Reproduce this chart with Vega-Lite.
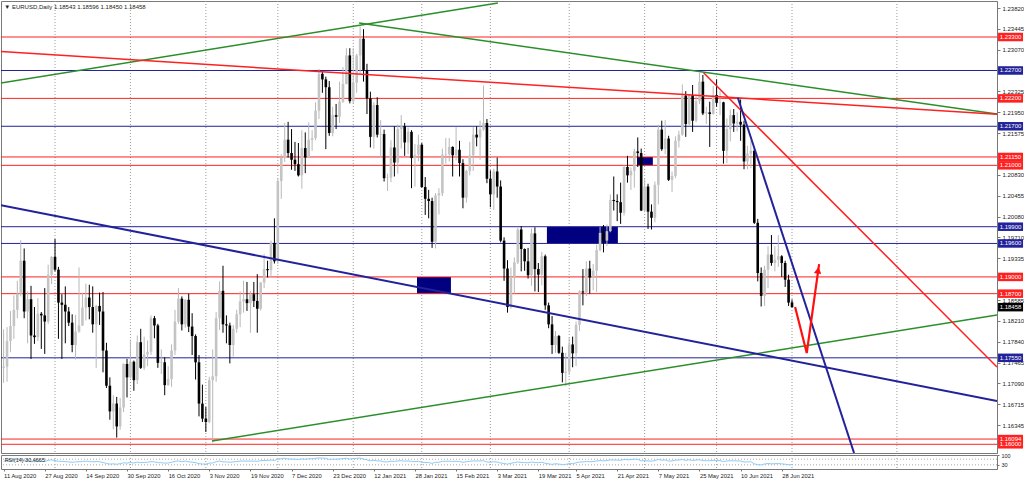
{
  "$schema": "https://vega.github.io/schema/vega-lite/v6.json",
  "padding": 0,
  "background": "white",
  "spacing": 2,
  "bounds": "flush",
  "config": {
    "view": {"stroke": "#7a7a7a", "strokeWidth": 1},
    "font": "Liberation Sans",
    "text": {"font": "Liberation Sans"},
    "axis": {"labelFont": "Liberation Sans", "labelFontSize": 6, "labelColor": "#222222", "domainColor": "#777777", "tickColor": "#777777", "grid": false, "title": null},
    "scale": {"continuousPadding": 0}
  },
  "datasets": {
    "candles": [
      {"i":0,"o":1.1737,"h":1.1806,"l":1.1710,"c":1.1739,"rsi":55},
      {"i":1,"o":1.1739,"h":1.1810,"l":1.1712,"c":1.1785,"rsi":60},
      {"i":2,"o":1.1785,"h":1.1839,"l":1.1765,"c":1.1812,"rsi":63},
      {"i":3,"o":1.1812,"h":1.1867,"l":1.1789,"c":1.1841,"rsi":66},
      {"i":4,"o":1.1841,"h":1.1893,"l":1.1826,"c":1.1870,"rsi":68},
      {"i":5,"o":1.1870,"h":1.1966,"l":1.1865,"c":1.1929,"rsi":72},
      {"i":6,"o":1.1929,"h":1.1951,"l":1.1826,"c":1.1838,"rsi":58},
      {"i":7,"o":1.1838,"h":1.1874,"l":1.1781,"c":1.1860,"rsi":60},
      {"i":8,"o":1.1860,"h":1.1884,"l":1.1753,"c":1.1795,"rsi":52},
      {"i":9,"o":1.1795,"h":1.1846,"l":1.1780,"c":1.1792,"rsi":52},
      {"i":10,"o":1.1792,"h":1.1862,"l":1.1785,"c":1.1834,"rsi":56},
      {"i":11,"o":1.1834,"h":1.1837,"l":1.1771,"c":1.1831,"rsi":55},
      {"i":12,"o":1.1831,"h":1.1880,"l":1.1762,"c":1.1820,"rsi":54},
      {"i":13,"o":1.1820,"h":1.1922,"l":1.1816,"c":1.1904,"rsi":62},
      {"i":14,"o":1.1904,"h":1.1937,"l":1.1887,"c":1.1936,"rsi":65},
      {"i":15,"o":1.1936,"h":1.1968,"l":1.1910,"c":1.1913,"rsi":60},
      {"i":16,"o":1.1913,"h":1.1918,"l":1.1789,"c":1.1854,"rsi":55},
      {"i":17,"o":1.1854,"h":1.1869,"l":1.1753,"c":1.1850,"rsi":54},
      {"i":18,"o":1.1850,"h":1.1883,"l":1.1781,"c":1.1838,"rsi":53},
      {"i":19,"o":1.1838,"h":1.1846,"l":1.1812,"c":1.1818,"rsi":51},
      {"i":20,"o":1.1818,"h":1.1833,"l":1.1765,"c":1.1778,"rsi":48},
      {"i":21,"o":1.1778,"h":1.1832,"l":1.1752,"c":1.1802,"rsi":51},
      {"i":22,"o":1.1802,"h":1.1917,"l":1.1800,"c":1.1813,"rsi":52},
      {"i":23,"o":1.1813,"h":1.1871,"l":1.1812,"c":1.1845,"rsi":54},
      {"i":24,"o":1.1845,"h":1.1888,"l":1.1822,"c":1.1863,"rsi":56},
      {"i":25,"o":1.1863,"h":1.1886,"l":1.1824,"c":1.1846,"rsi":54},
      {"i":26,"o":1.1846,"h":1.1883,"l":1.1800,"c":1.1815,"rsi":51},
      {"i":27,"o":1.1815,"h":1.1850,"l":1.1737,"c":1.1848,"rsi":53},
      {"i":28,"o":1.1848,"h":1.1872,"l":1.1814,"c":1.1838,"rsi":52},
      {"i":29,"o":1.1838,"h":1.1873,"l":1.1729,"c":1.1768,"rsi":46},
      {"i":30,"o":1.1768,"h":1.1782,"l":1.1701,"c":1.1705,"rsi":40},
      {"i":31,"o":1.1705,"h":1.1720,"l":1.1644,"c":1.1659,"rsi":35},
      {"i":32,"o":1.1659,"h":1.1688,"l":1.1627,"c":1.1673,"rsi":37},
      {"i":33,"o":1.1673,"h":1.1685,"l":1.1612,"c":1.1632,"rsi":34},
      {"i":34,"o":1.1632,"h":1.1683,"l":1.1626,"c":1.1666,"rsi":38},
      {"i":35,"o":1.1666,"h":1.1745,"l":1.1658,"c":1.1744,"rsi":44},
      {"i":36,"o":1.1744,"h":1.1753,"l":1.1684,"c":1.1720,"rsi":42},
      {"i":37,"o":1.1720,"h":1.1788,"l":1.1718,"c":1.1748,"rsi":46},
      {"i":38,"o":1.1748,"h":1.1750,"l":1.1696,"c":1.1715,"rsi":43},
      {"i":39,"o":1.1715,"h":1.1795,"l":1.1708,"c":1.1783,"rsi":49},
      {"i":40,"o":1.1783,"h":1.1807,"l":1.1735,"c":1.1737,"rsi":45},
      {"i":41,"o":1.1737,"h":1.1793,"l":1.1733,"c":1.1761,"rsi":47},
      {"i":42,"o":1.1761,"h":1.1786,"l":1.1740,"c":1.1766,"rsi":48},
      {"i":43,"o":1.1766,"h":1.1831,"l":1.1760,"c":1.1826,"rsi":53},
      {"i":44,"o":1.1826,"h":1.1830,"l":1.1790,"c":1.1813,"rsi":51},
      {"i":45,"o":1.1813,"h":1.1816,"l":1.1737,"c":1.1746,"rsi":45},
      {"i":46,"o":1.1746,"h":1.1770,"l":1.1726,"c":1.1747,"rsi":45},
      {"i":47,"o":1.1747,"h":1.1756,"l":1.1688,"c":1.1706,"rsi":42},
      {"i":48,"o":1.1706,"h":1.1740,"l":1.1705,"c":1.1717,"rsi":43},
      {"i":49,"o":1.1717,"h":1.1779,"l":1.1703,"c":1.1768,"rsi":48},
      {"i":50,"o":1.1768,"h":1.1841,"l":1.1760,"c":1.1820,"rsi":54},
      {"i":51,"o":1.1820,"h":1.1880,"l":1.1816,"c":1.1861,"rsi":58},
      {"i":52,"o":1.1861,"h":1.1865,"l":1.1804,"c":1.1815,"rsi":52},
      {"i":53,"o":1.1815,"h":1.1860,"l":1.1809,"c":1.1859,"rsi":56},
      {"i":54,"o":1.1859,"h":1.1870,"l":1.1801,"c":1.1811,"rsi":51},
      {"i":55,"o":1.1811,"h":1.1835,"l":1.1760,"c":1.1794,"rsi":49},
      {"i":56,"o":1.1794,"h":1.1797,"l":1.1716,"c":1.1747,"rsi":45},
      {"i":57,"o":1.1747,"h":1.1760,"l":1.1650,"c":1.1673,"rsi":38},
      {"i":58,"o":1.1673,"h":1.1707,"l":1.1640,"c":1.1646,"rsi":36},
      {"i":59,"o":1.1646,"h":1.1667,"l":1.1622,"c":1.1640,"rsi":35},
      {"i":60,"o":1.1640,"h":1.1721,"l":1.1638,"c":1.1715,"rsi":42},
      {"i":61,"o":1.1715,"h":1.1770,"l":1.1603,"c":1.1722,"rsi":43},
      {"i":62,"o":1.1722,"h":1.1837,"l":1.1712,"c":1.1826,"rsi":52},
      {"i":63,"o":1.1826,"h":1.1892,"l":1.1805,"c":1.1875,"rsi":57},
      {"i":64,"o":1.1875,"h":1.1920,"l":1.1800,"c":1.1815,"rsi":51},
      {"i":65,"o":1.1815,"h":1.1831,"l":1.1781,"c":1.1813,"rsi":51},
      {"i":66,"o":1.1813,"h":1.1818,"l":1.1745,"c":1.1778,"rsi":48},
      {"i":67,"o":1.1778,"h":1.1814,"l":1.1757,"c":1.1807,"rsi":51},
      {"i":68,"o":1.1807,"h":1.1841,"l":1.1800,"c":1.1833,"rsi":54},
      {"i":69,"o":1.1833,"h":1.1874,"l":1.1810,"c":1.1856,"rsi":56},
      {"i":70,"o":1.1856,"h":1.1893,"l":1.1836,"c":1.1860,"rsi":57},
      {"i":71,"o":1.1860,"h":1.1891,"l":1.1839,"c":1.1853,"rsi":56},
      {"i":72,"o":1.1853,"h":1.1875,"l":1.1800,"c":1.1869,"rsi":57},
      {"i":73,"o":1.1869,"h":1.1891,"l":1.1846,"c":1.1857,"rsi":56},
      {"i":74,"o":1.1857,"h":1.1905,"l":1.1800,"c":1.1843,"rsi":55},
      {"i":75,"o":1.1843,"h":1.1891,"l":1.1840,"c":1.1890,"rsi":59},
      {"i":76,"o":1.1890,"h":1.1941,"l":1.1880,"c":1.1914,"rsi":61},
      {"i":77,"o":1.1914,"h":1.1929,"l":1.1899,"c":1.1912,"rsi":61},
      {"i":78,"o":1.1912,"h":1.1965,"l":1.1900,"c":1.1961,"rsi":64},
      {"i":79,"o":1.1961,"h":1.2005,"l":1.1924,"c":1.1928,"rsi":61},
      {"i":80,"o":1.1928,"h":1.2077,"l":1.1923,"c":1.2072,"rsi":70},
      {"i":81,"o":1.2072,"h":1.2120,"l":1.2040,"c":1.2113,"rsi":73},
      {"i":82,"o":1.2113,"h":1.2176,"l":1.2106,"c":1.2146,"rsi":75},
      {"i":83,"o":1.2146,"h":1.2178,"l":1.2114,"c":1.2122,"rsi":72},
      {"i":84,"o":1.2122,"h":1.2165,"l":1.2092,"c":1.2110,"rsi":71},
      {"i":85,"o":1.2110,"h":1.2142,"l":1.2090,"c":1.2102,"rsi":70},
      {"i":86,"o":1.2102,"h":1.2140,"l":1.2080,"c":1.2082,"rsi":68},
      {"i":87,"o":1.2082,"h":1.2163,"l":1.2058,"c":1.2131,"rsi":72},
      {"i":88,"o":1.2131,"h":1.2159,"l":1.2086,"c":1.2114,"rsi":70},
      {"i":89,"o":1.2114,"h":1.2177,"l":1.2113,"c":1.2146,"rsi":73},
      {"i":90,"o":1.2146,"h":1.2163,"l":1.2126,"c":1.2149,"rsi":73},
      {"i":91,"o":1.2149,"h":1.2213,"l":1.2145,"c":1.2198,"rsi":76},
      {"i":92,"o":1.2198,"h":1.2273,"l":1.2183,"c":1.2264,"rsi":79},
      {"i":93,"o":1.2264,"h":1.2269,"l":1.2230,"c":1.2254,"rsi":78},
      {"i":94,"o":1.2254,"h":1.2259,"l":1.2129,"c":1.2240,"rsi":76},
      {"i":95,"o":1.2240,"h":1.2251,"l":1.2153,"c":1.2158,"rsi":68},
      {"i":96,"o":1.2158,"h":1.2205,"l":1.2152,"c":1.2190,"rsi":70},
      {"i":97,"o":1.2190,"h":1.2210,"l":1.2165,"c":1.2187,"rsi":70},
      {"i":98,"o":1.2187,"h":1.2250,"l":1.2176,"c":1.2214,"rsi":72},
      {"i":99,"o":1.2214,"h":1.2276,"l":1.2212,"c":1.2246,"rsi":74},
      {"i":100,"o":1.2246,"h":1.2310,"l":1.2245,"c":1.2297,"rsi":77},
      {"i":101,"o":1.2297,"h":1.2310,"l":1.2211,"c":1.2215,"rsi":71},
      {"i":102,"o":1.2215,"h":1.2310,"l":1.2211,"c":1.2248,"rsi":73},
      {"i":103,"o":1.2248,"h":1.2300,"l":1.2230,"c":1.2297,"rsi":76},
      {"i":104,"o":1.2297,"h":1.2349,"l":1.2265,"c":1.2327,"rsi":78},
      {"i":105,"o":1.2327,"h":1.2344,"l":1.2250,"c":1.2271,"rsi":71},
      {"i":106,"o":1.2271,"h":1.2282,"l":1.2192,"c":1.2220,"rsi":65},
      {"i":107,"o":1.2220,"h":1.2232,"l":1.2132,"c":1.2151,"rsi":58},
      {"i":108,"o":1.2151,"h":1.2213,"l":1.2130,"c":1.2208,"rsi":62},
      {"i":109,"o":1.2208,"h":1.2222,"l":1.2150,"c":1.2155,"rsi":58},
      {"i":110,"o":1.2155,"h":1.2181,"l":1.2113,"c":1.2156,"rsi":58},
      {"i":111,"o":1.2156,"h":1.2164,"l":1.2071,"c":1.2077,"rsi":51},
      {"i":112,"o":1.2077,"h":1.2085,"l":1.2054,"c":1.2078,"rsi":51},
      {"i":113,"o":1.2078,"h":1.2145,"l":1.2070,"c":1.2132,"rsi":56},
      {"i":114,"o":1.2132,"h":1.2170,"l":1.2080,"c":1.2105,"rsi":54},
      {"i":115,"o":1.2105,"h":1.2173,"l":1.2085,"c":1.2165,"rsi":58},
      {"i":116,"o":1.2165,"h":1.2190,"l":1.2130,"c":1.2170,"rsi":59},
      {"i":117,"o":1.2170,"h":1.2176,"l":1.2117,"c":1.2141,"rsi":56},
      {"i":118,"o":1.2141,"h":1.2168,"l":1.2120,"c":1.2160,"rsi":58},
      {"i":119,"o":1.2160,"h":1.2163,"l":1.2059,"c":1.2113,"rsi":53},
      {"i":120,"o":1.2113,"h":1.2138,"l":1.2062,"c":1.2119,"rsi":53},
      {"i":121,"o":1.2119,"h":1.2155,"l":1.2107,"c":1.2137,"rsi":55},
      {"i":122,"o":1.2137,"h":1.2140,"l":1.2060,"c":1.2061,"rsi":48},
      {"i":123,"o":1.2061,"h":1.2079,"l":1.2011,"c":1.2040,"rsi":46},
      {"i":124,"o":1.2040,"h":1.2056,"l":1.2005,"c":1.2036,"rsi":46},
      {"i":125,"o":1.2036,"h":1.2042,"l":1.1952,"c":1.1963,"rsi":40},
      {"i":126,"o":1.1963,"h":1.2050,"l":1.1951,"c":1.2046,"rsi":48},
      {"i":127,"o":1.2046,"h":1.2059,"l":1.2012,"c":1.2050,"rsi":48},
      {"i":128,"o":1.2050,"h":1.2130,"l":1.2045,"c":1.2119,"rsi":55},
      {"i":129,"o":1.2119,"h":1.2149,"l":1.2103,"c":1.2120,"rsi":55},
      {"i":130,"o":1.2120,"h":1.2149,"l":1.2107,"c":1.2133,"rsi":56},
      {"i":131,"o":1.2133,"h":1.2134,"l":1.2080,"c":1.2118,"rsi":54},
      {"i":132,"o":1.2118,"h":1.2169,"l":1.2109,"c":1.2128,"rsi":55},
      {"i":133,"o":1.2128,"h":1.2144,"l":1.2080,"c":1.2104,"rsi":53},
      {"i":134,"o":1.2104,"h":1.2111,"l":1.2023,"c":1.2042,"rsi":48},
      {"i":135,"o":1.2042,"h":1.2092,"l":1.2033,"c":1.2090,"rsi":52},
      {"i":136,"o":1.2090,"h":1.2142,"l":1.2082,"c":1.2118,"rsi":55},
      {"i":137,"o":1.2118,"h":1.2169,"l":1.2090,"c":1.2155,"rsi":58},
      {"i":138,"o":1.2155,"h":1.2170,"l":1.2134,"c":1.2150,"rsi":57},
      {"i":139,"o":1.2150,"h":1.2180,"l":1.2110,"c":1.2164,"rsi":58},
      {"i":140,"o":1.2164,"h":1.2243,"l":1.2162,"c":1.2176,"rsi":59},
      {"i":141,"o":1.2176,"h":1.2183,"l":1.2068,"c":1.2076,"rsi":50},
      {"i":142,"o":1.2076,"h":1.2091,"l":1.2025,"c":1.2048,"rsi":48},
      {"i":143,"o":1.2048,"h":1.2094,"l":1.2020,"c":1.2089,"rsi":52},
      {"i":144,"o":1.2089,"h":1.2114,"l":1.2042,"c":1.2062,"rsi":50},
      {"i":145,"o":1.2062,"h":1.2073,"l":1.1962,"c":1.1965,"rsi":43},
      {"i":146,"o":1.1965,"h":1.1971,"l":1.1893,"c":1.1915,"rsi":39},
      {"i":147,"o":1.1915,"h":1.1930,"l":1.1836,"c":1.1846,"rsi":35},
      {"i":148,"o":1.1846,"h":1.1917,"l":1.1843,"c":1.1900,"rsi":41},
      {"i":149,"o":1.1900,"h":1.1935,"l":1.1870,"c":1.1926,"rsi":45},
      {"i":150,"o":1.1926,"h":1.1990,"l":1.1923,"c":1.1985,"rsi":50},
      {"i":151,"o":1.1985,"h":1.1991,"l":1.1910,"c":1.1950,"rsi":47},
      {"i":152,"o":1.1950,"h":1.1951,"l":1.1911,"c":1.1928,"rsi":46},
      {"i":153,"o":1.1928,"h":1.1952,"l":1.1897,"c":1.1903,"rsi":44},
      {"i":154,"o":1.1903,"h":1.1987,"l":1.1884,"c":1.1978,"rsi":50},
      {"i":155,"o":1.1978,"h":1.1989,"l":1.1874,"c":1.1914,"rsi":46},
      {"i":156,"o":1.1914,"h":1.1925,"l":1.1873,"c":1.1904,"rsi":45},
      {"i":157,"o":1.1904,"h":1.1945,"l":1.1885,"c":1.1937,"rsi":48},
      {"i":158,"o":1.1937,"h":1.1940,"l":1.1841,"c":1.1849,"rsi":41},
      {"i":159,"o":1.1849,"h":1.1854,"l":1.1808,"c":1.1815,"rsi":37},
      {"i":160,"o":1.1815,"h":1.1830,"l":1.1762,"c":1.1778,"rsi":33},
      {"i":161,"o":1.1778,"h":1.1803,"l":1.1764,"c":1.1794,"rsi":38},
      {"i":162,"o":1.1794,"h":1.1796,"l":1.1762,"c":1.1764,"rsi":35},
      {"i":163,"o":1.1764,"h":1.1775,"l":1.1711,"c":1.1728,"rsi":32},
      {"i":164,"o":1.1728,"h":1.1764,"l":1.1704,"c":1.1730,"rsi":33},
      {"i":165,"o":1.1730,"h":1.1791,"l":1.1724,"c":1.1779,"rsi":39},
      {"i":166,"o":1.1779,"h":1.1793,"l":1.1738,"c":1.1763,"rsi":38},
      {"i":167,"o":1.1763,"h":1.1820,"l":1.1740,"c":1.1814,"rsi":44},
      {"i":168,"o":1.1814,"h":1.1876,"l":1.1803,"c":1.1874,"rsi":50},
      {"i":169,"o":1.1874,"h":1.1914,"l":1.1849,"c":1.1872,"rsi":50},
      {"i":170,"o":1.1872,"h":1.1928,"l":1.1866,"c":1.1915,"rsi":54},
      {"i":171,"o":1.1915,"h":1.1929,"l":1.1870,"c":1.1899,"rsi":52},
      {"i":172,"o":1.1899,"h":1.1923,"l":1.1876,"c":1.1911,"rsi":53},
      {"i":173,"o":1.1911,"h":1.1958,"l":1.1873,"c":1.1948,"rsi":57},
      {"i":174,"o":1.1948,"h":1.1990,"l":1.1946,"c":1.1979,"rsi":60},
      {"i":175,"o":1.1979,"h":1.1993,"l":1.1944,"c":1.1965,"rsi":58},
      {"i":176,"o":1.1965,"h":1.1994,"l":1.1955,"c":1.1982,"rsi":60},
      {"i":177,"o":1.1982,"h":1.2048,"l":1.1980,"c":1.2038,"rsi":65},
      {"i":178,"o":1.2038,"h":1.2080,"l":1.2019,"c":1.2036,"rsi":64},
      {"i":179,"o":1.2036,"h":1.2048,"l":1.2000,"c":1.2034,"rsi":64},
      {"i":180,"o":1.2034,"h":1.2069,"l":1.1995,"c":1.2015,"rsi":62},
      {"i":181,"o":1.2015,"h":1.2100,"l":1.2010,"c":1.2097,"rsi":68},
      {"i":182,"o":1.2097,"h":1.2117,"l":1.2069,"c":1.2082,"rsi":66},
      {"i":183,"o":1.2082,"h":1.2096,"l":1.2056,"c":1.2090,"rsi":67},
      {"i":184,"o":1.2090,"h":1.2130,"l":1.2060,"c":1.2125,"rsi":70},
      {"i":185,"o":1.2125,"h":1.2150,"l":1.2097,"c":1.2122,"rsi":69},
      {"i":186,"o":1.2122,"h":1.2130,"l":1.2018,"c":1.2019,"rsi":58},
      {"i":187,"o":1.2019,"h":1.2075,"l":1.2016,"c":1.2062,"rsi":61},
      {"i":188,"o":1.2062,"h":1.2067,"l":1.1986,"c":1.2017,"rsi":57},
      {"i":189,"o":1.2017,"h":1.2030,"l":1.1985,"c":1.2006,"rsi":56},
      {"i":190,"o":1.2006,"h":1.2071,"l":1.1998,"c":1.2065,"rsi":61},
      {"i":191,"o":1.2065,"h":1.2173,"l":1.2030,"c":1.2164,"rsi":68},
      {"i":192,"o":1.2164,"h":1.2180,"l":1.2126,"c":1.2129,"rsi":63},
      {"i":193,"o":1.2129,"h":1.2181,"l":1.2120,"c":1.2148,"rsi":65},
      {"i":194,"o":1.2148,"h":1.2153,"l":1.2072,"c":1.2074,"rsi":57},
      {"i":195,"o":1.2074,"h":1.2089,"l":1.2052,"c":1.2081,"rsi":57},
      {"i":196,"o":1.2081,"h":1.2152,"l":1.2077,"c":1.2144,"rsi":63},
      {"i":197,"o":1.2144,"h":1.2162,"l":1.2132,"c":1.2155,"rsi":64},
      {"i":198,"o":1.2155,"h":1.2245,"l":1.2153,"c":1.2225,"rsi":68},
      {"i":199,"o":1.2225,"h":1.2233,"l":1.2151,"c":1.2174,"rsi":61},
      {"i":200,"o":1.2174,"h":1.2228,"l":1.2170,"c":1.2226,"rsi":66},
      {"i":201,"o":1.2226,"h":1.2244,"l":1.2160,"c":1.2180,"rsi":61},
      {"i":202,"o":1.2180,"h":1.2227,"l":1.2177,"c":1.2215,"rsi":64},
      {"i":203,"o":1.2215,"h":1.2266,"l":1.2210,"c":1.2250,"rsi":66},
      {"i":204,"o":1.2250,"h":1.2262,"l":1.2190,"c":1.2193,"rsi":59},
      {"i":205,"o":1.2193,"h":1.2205,"l":1.2174,"c":1.2195,"rsi":59},
      {"i":206,"o":1.2195,"h":1.2214,"l":1.2133,"c":1.2192,"rsi":59},
      {"i":207,"o":1.2192,"h":1.2242,"l":1.2191,"c":1.2226,"rsi":62},
      {"i":208,"o":1.2226,"h":1.2254,"l":1.2205,"c":1.2212,"rsi":60},
      {"i":209,"o":1.2212,"h":1.2233,"l":1.2190,"c":1.2213,"rsi":60},
      {"i":210,"o":1.2213,"h":1.2214,"l":1.2103,"c":1.2126,"rsi":53},
      {"i":211,"o":1.2126,"h":1.2184,"l":1.2104,"c":1.2165,"rsi":57},
      {"i":212,"o":1.2165,"h":1.2200,"l":1.2143,"c":1.2190,"rsi":59},
      {"i":213,"o":1.2190,"h":1.2201,"l":1.2160,"c":1.2175,"rsi":58},
      {"i":214,"o":1.2175,"h":1.2195,"l":1.2161,"c":1.2178,"rsi":58},
      {"i":215,"o":1.2178,"h":1.2218,"l":1.2144,"c":1.2173,"rsi":57},
      {"i":216,"o":1.2173,"h":1.2180,"l":1.2093,"c":1.2107,"rsi":50},
      {"i":217,"o":1.2107,"h":1.2135,"l":1.2093,"c":1.2121,"rsi":51},
      {"i":218,"o":1.2121,"h":1.2144,"l":1.2095,"c":1.2126,"rsi":52},
      {"i":219,"o":1.2126,"h":1.2130,"l":1.1995,"c":1.1997,"rsi":37},
      {"i":220,"o":1.1997,"h":1.2004,"l":1.1892,"c":1.1907,"rsi":31},
      {"i":221,"o":1.1907,"h":1.1917,"l":1.1847,"c":1.1866,"rsi":29},
      {"i":222,"o":1.1866,"h":1.1920,"l":1.1848,"c":1.1913,"rsi":36},
      {"i":223,"o":1.1913,"h":1.1955,"l":1.1880,"c":1.1940,"rsi":39},
      {"i":224,"o":1.1940,"h":1.1975,"l":1.1920,"c":1.1925,"rsi":37},
      {"i":225,"o":1.1925,"h":1.1955,"l":1.1910,"c":1.1931,"rsi":38},
      {"i":226,"o":1.1931,"h":1.1975,"l":1.1918,"c":1.1937,"rsi":39},
      {"i":227,"o":1.1937,"h":1.1939,"l":1.1900,"c":1.1925,"rsi":37},
      {"i":228,"o":1.1925,"h":1.1929,"l":1.1882,"c":1.1895,"rsi":34},
      {"i":229,"o":1.1895,"h":1.1904,"l":1.1848,"c":1.1854,"rsi":31},
      {"i":230,"o":1.18543,"h":1.18596,"l":1.18450,"c":1.18458,"rsi":30.4665}
    ],
    "levels": [
      {"p":1.2330,"kind":"red"},{"p":1.2270,"kind":"blue"},{"p":1.2220,"kind":"red"},
      {"p":1.2170,"kind":"blue"},{"p":1.2115,"kind":"red"},{"p":1.2100,"kind":"red"},
      {"p":1.1990,"kind":"blue"},{"p":1.1960,"kind":"blue"},{"p":1.1900,"kind":"red"},
      {"p":1.1870,"kind":"red"},{"p":1.1755,"kind":"blue"},{"p":1.16094,"kind":"red"},
      {"p":1.1600,"kind":"red"}
    ],
    "tags": [
      {"p":1.2330,"kind":"red"},{"p":1.2270,"kind":"blue"},{"p":1.2220,"kind":"red"},
      {"p":1.2170,"kind":"blue"},{"p":1.2115,"kind":"red"},{"p":1.2100,"kind":"red"},
      {"p":1.1990,"kind":"blue"},{"p":1.1960,"kind":"blue"},{"p":1.1900,"kind":"red"},
      {"p":1.1870,"kind":"red"},{"p":1.18458,"kind":"price"},{"p":1.1755,"kind":"blue"},
      {"p":1.16094,"kind":"red"},{"p":1.1600,"kind":"red"}
    ],
    "zones": [
      {"i0":120.6,"i1":130.5,"p0":1.1900,"p1":1.1870},
      {"i0":158.5,"i1":179.2,"p0":1.1990,"p1":1.1960},
      {"i0":184.8,"i1":189.4,"p0":1.2115,"p1":1.2100}
    ],
    "trend": [
      {"id":"g1","kind":"green","i":-0.76,"p":1.22476},{"id":"g1","kind":"green","i":144.2,"p":1.23910},
      {"id":"g2","kind":"green","i":103.7,"p":1.23551},{"id":"g2","kind":"green","i":289.8,"p":1.21920},
      {"id":"g3","kind":"green","i":60.8,"p":1.16059},{"id":"g3","kind":"green","i":289.8,"p":1.18317},
      {"id":"r1","kind":"red","i":-0.76,"p":1.23040},{"id":"r1","kind":"red","i":289.8,"p":1.21916},
      {"id":"r2","kind":"red","i":204.2,"p":1.22660},{"id":"r2","kind":"red","i":289.8,"p":1.17385},
      {"id":"b1","kind":"blue","i":214.2,"p":1.22212},{"id":"b1","kind":"blue","i":248.1,"p":1.15844},
      {"id":"b2","kind":"blue","i":-0.76,"p":1.20284},{"id":"b2","kind":"blue","i":289.8,"p":1.16776}
    ],
    "arrow": [
      {"i":230.9,"p":1.18461},{"i":234.3,"p":1.17636},{"i":237.9,"p":1.19231}
    ],
    "seps": [
      {"i":15},{"i":37},{"i":59},{"i":80},{"i":102},{"i":122},{"i":142},{"i":165},{"i":187},{"i":208},{"i":230},{"i":260.6}
    ]
  },
  "vconcat": [
    {
      "width": 996,
      "height": 452,
      "layer": [
        {
          "data": {"name": "seps"},
          "mark": {"type": "rule", "color": "#9a9a9a", "strokeDash": [1, 2], "strokeWidth": 1, "clip": true},
          "encoding": {
            "x": {"field": "i", "type": "quantitative", "scale": {"domain": [-0.76, 289.8], "nice": false, "zero": false}, "axis": null},
            "y": {"datum": 1.239455, "type": "quantitative", "scale": {"domain": [1.15844, 1.239455], "nice": false, "zero": false},
                  "axis": {"orient": "right", "values": [1.2382, 1.23445, 1.2307, 1.22325, 1.2195, 1.21575, 1.2083, 1.20455, 1.2008, 1.1971, 1.19335, 1.18585, 1.1821, 1.1784, 1.17465, 1.1709, 1.16715, 1.16345], "format": ".5f", "tickSize": 3, "labelPadding": 2, "title": null}},
            "y2": {"datum": 1.15844}
          }
        },
        {
          "data": {"name": "zones"},
          "mark": {"type": "rect", "color": "#000080"},
          "encoding": {
            "x": {"field": "i0", "type": "quantitative", "scale": {"domain": [-0.76, 289.8], "nice": false, "zero": false}, "axis": null},
            "x2": {"field": "i1"},
            "y": {"field": "p0", "type": "quantitative", "scale": {"domain": [1.15844, 1.239455], "nice": false, "zero": false},
                  "axis": {"orient": "right", "values": [1.2382, 1.23445, 1.2307, 1.22325, 1.2195, 1.21575, 1.2083, 1.20455, 1.2008, 1.1971, 1.19335, 1.18585, 1.1821, 1.1784, 1.17465, 1.1709, 1.16715, 1.16345], "format": ".5f", "tickSize": 3, "labelPadding": 2, "title": null}},
            "y2": {"field": "p1"}
          }
        },
        {
          "data": {"name": "levels"},
          "mark": {"type": "rule", "strokeWidth": 1},
          "encoding": {
            "y": {"field": "p", "type": "quantitative", "scale": {"domain": [1.15844, 1.239455], "nice": false, "zero": false},
                  "axis": {"orient": "right", "values": [1.2382, 1.23445, 1.2307, 1.22325, 1.2195, 1.21575, 1.2083, 1.20455, 1.2008, 1.1971, 1.19335, 1.18585, 1.1821, 1.1784, 1.17465, 1.1709, 1.16715, 1.16345], "format": ".5f", "tickSize": 3, "labelPadding": 2, "title": null}},
            "color": {"field": "kind", "type": "nominal", "scale": {"domain": ["red", "blue", "green", "price"], "range": ["#ff2020", "#22229a", "#2a8f2a", "#000000"]}, "legend": null}
          }
        },
        {
          "data": {"name": "candles"},
          "mark": {"type": "rule", "strokeWidth": 1},
          "encoding": {
            "x": {"field": "i", "type": "quantitative", "scale": {"domain": [-0.76, 289.8], "nice": false, "zero": false}, "axis": null},
            "y": {"field": "l", "type": "quantitative", "scale": {"domain": [1.15844, 1.239455], "nice": false, "zero": false},
                  "axis": {"orient": "right", "values": [1.2382, 1.23445, 1.2307, 1.22325, 1.2195, 1.21575, 1.2083, 1.20455, 1.2008, 1.1971, 1.19335, 1.18585, 1.1821, 1.1784, 1.17465, 1.1709, 1.16715, 1.16345], "format": ".5f", "tickSize": 3, "labelPadding": 2, "title": null}},
            "y2": {"field": "h"},
            "color": {"condition": {"test": "datum.c >= datum.o", "value": "#b8b8b8"}, "value": "#000000"}
          }
        },
        {
          "data": {"name": "candles"},
          "mark": {"type": "bar", "size": 2.6},
          "encoding": {
            "x": {"field": "i", "type": "quantitative", "scale": {"domain": [-0.76, 289.8], "nice": false, "zero": false}, "axis": null},
            "y": {"field": "o", "type": "quantitative", "scale": {"domain": [1.15844, 1.239455], "nice": false, "zero": false},
                  "axis": {"orient": "right", "values": [1.2382, 1.23445, 1.2307, 1.22325, 1.2195, 1.21575, 1.2083, 1.20455, 1.2008, 1.1971, 1.19335, 1.18585, 1.1821, 1.1784, 1.17465, 1.1709, 1.16715, 1.16345], "format": ".5f", "tickSize": 3, "labelPadding": 2, "title": null}},
            "y2": {"field": "c"},
            "color": {"condition": {"test": "datum.c >= datum.o", "value": "#c4c4c4"}, "value": "#000000"}
          }
        },
        {
          "data": {"name": "trend"},
          "transform": [{"filter": "datum.kind != 'blue'"}],
          "mark": {"type": "line", "strokeWidth": 1.5, "clip": true},
          "encoding": {
            "x": {"field": "i", "type": "quantitative", "scale": {"domain": [-0.76, 289.8], "nice": false, "zero": false}, "axis": null},
            "y": {"field": "p", "type": "quantitative", "scale": {"domain": [1.15844, 1.239455], "nice": false, "zero": false},
                  "axis": {"orient": "right", "values": [1.2382, 1.23445, 1.2307, 1.22325, 1.2195, 1.21575, 1.2083, 1.20455, 1.2008, 1.1971, 1.19335, 1.18585, 1.1821, 1.1784, 1.17465, 1.1709, 1.16715, 1.16345], "format": ".5f", "tickSize": 3, "labelPadding": 2, "title": null}},
            "detail": {"field": "id", "type": "nominal"},
            "color": {"field": "kind", "type": "nominal", "scale": {"domain": ["red", "blue", "green", "price"], "range": ["#ff2020", "#22229a", "#2a8f2a", "#000000"]}, "legend": null}
          }
        },
        {
          "data": {"name": "trend"},
          "transform": [{"filter": "datum.kind == 'blue'"}],
          "mark": {"type": "line", "strokeWidth": 2, "clip": true},
          "encoding": {
            "x": {"field": "i", "type": "quantitative", "scale": {"domain": [-0.76, 289.8], "nice": false, "zero": false}, "axis": null},
            "y": {"field": "p", "type": "quantitative", "scale": {"domain": [1.15844, 1.239455], "nice": false, "zero": false},
                  "axis": {"orient": "right", "values": [1.2382, 1.23445, 1.2307, 1.22325, 1.2195, 1.21575, 1.2083, 1.20455, 1.2008, 1.1971, 1.19335, 1.18585, 1.1821, 1.1784, 1.17465, 1.1709, 1.16715, 1.16345], "format": ".5f", "tickSize": 3, "labelPadding": 2, "title": null}},
            "detail": {"field": "id", "type": "nominal"},
            "color": {"field": "kind", "type": "nominal", "scale": {"domain": ["red", "blue", "green", "price"], "range": ["#ff2020", "#22229a", "#2a8f2a", "#000000"]}, "legend": null}
          }
        },
        {
          "data": {"name": "arrow"},
          "mark": {"type": "line", "strokeWidth": 2.2, "color": "#ff1010", "clip": true},
          "encoding": {
            "x": {"field": "i", "type": "quantitative", "scale": {"domain": [-0.76, 289.8], "nice": false, "zero": false}, "axis": null},
            "y": {"field": "p", "type": "quantitative", "scale": {"domain": [1.15844, 1.239455], "nice": false, "zero": false},
                  "axis": {"orient": "right", "values": [1.2382, 1.23445, 1.2307, 1.22325, 1.2195, 1.21575, 1.2083, 1.20455, 1.2008, 1.1971, 1.19335, 1.18585, 1.1821, 1.1784, 1.17465, 1.1709, 1.16715, 1.16345], "format": ".5f", "tickSize": 3, "labelPadding": 2, "title": null}}
          }
        },
        {
          "data": {"values": [{"i": 237.6, "p": 1.1912}]},
          "mark": {"type": "point", "shape": "triangle-up", "filled": true, "size": 55, "angle": 8, "color": "#ff1010", "opacity": 1},
          "encoding": {
            "x": {"field": "i", "type": "quantitative", "scale": {"domain": [-0.76, 289.8], "nice": false, "zero": false}, "axis": null},
            "y": {"field": "p", "type": "quantitative", "scale": {"domain": [1.15844, 1.239455], "nice": false, "zero": false},
                  "axis": {"orient": "right", "values": [1.2382, 1.23445, 1.2307, 1.22325, 1.2195, 1.21575, 1.2083, 1.20455, 1.2008, 1.1971, 1.19335, 1.18585, 1.1821, 1.1784, 1.17465, 1.1709, 1.16715, 1.16345], "format": ".5f", "tickSize": 3, "labelPadding": 2, "title": null}}
          }
        },
        {
          "data": {"name": "tags"},
          "mark": {"type": "tick", "orient": "horizontal", "size": 25, "thickness": 8.5, "opacity": 1},
          "encoding": {
            "x": {"datum": 293.75, "type": "quantitative", "scale": {"domain": [-0.76, 289.8], "nice": false, "zero": false}, "axis": null},
            "y": {"field": "p", "type": "quantitative", "scale": {"domain": [1.15844, 1.239455], "nice": false, "zero": false},
                  "axis": {"orient": "right", "values": [1.2382, 1.23445, 1.2307, 1.22325, 1.2195, 1.21575, 1.2083, 1.20455, 1.2008, 1.1971, 1.19335, 1.18585, 1.1821, 1.1784, 1.17465, 1.1709, 1.16715, 1.16345], "format": ".5f", "tickSize": 3, "labelPadding": 2, "title": null}},
            "color": {"field": "kind", "type": "nominal", "scale": {"domain": ["red", "blue", "green", "price"], "range": ["#ff2020", "#22229a", "#2a8f2a", "#000000"]}, "legend": null}
          }
        },
        {
          "data": {"name": "tags"},
          "mark": {"type": "text", "color": "#ffffff", "fontSize": 6, "align": "center", "baseline": "middle"},
          "encoding": {
            "x": {"datum": 293.75, "type": "quantitative", "scale": {"domain": [-0.76, 289.8], "nice": false, "zero": false}, "axis": null},
            "y": {"field": "p", "type": "quantitative", "scale": {"domain": [1.15844, 1.239455], "nice": false, "zero": false},
                  "axis": {"orient": "right", "values": [1.2382, 1.23445, 1.2307, 1.22325, 1.2195, 1.21575, 1.2083, 1.20455, 1.2008, 1.1971, 1.19335, 1.18585, 1.1821, 1.1784, 1.17465, 1.1709, 1.16715, 1.16345], "format": ".5f", "tickSize": 3, "labelPadding": 2, "title": null}},
            "text": {"field": "p", "type": "quantitative", "format": ".5f"}
          }
        },
        {
          "data": {"values": [{"label": "▼ EURUSD,Daily  1.18543 1.18596 1.18450 1.18458"}]},
          "mark": {"type": "text", "color": "#222222", "fontSize": 6, "align": "left", "baseline": "middle"},
          "encoding": {
            "x": {"datum": 0.2, "type": "quantitative", "scale": {"domain": [-0.76, 289.8], "nice": false, "zero": false}, "axis": null},
            "y": {"datum": 1.23838, "type": "quantitative", "scale": {"domain": [1.15844, 1.239455], "nice": false, "zero": false},
                  "axis": {"orient": "right", "values": [1.2382, 1.23445, 1.2307, 1.22325, 1.2195, 1.21575, 1.2083, 1.20455, 1.2008, 1.1971, 1.19335, 1.18585, 1.1821, 1.1784, 1.17465, 1.1709, 1.16715, 1.16345], "format": ".5f", "tickSize": 3, "labelPadding": 2, "title": null}},
            "text": {"field": "label", "type": "nominal"}
          }
        }
      ]
    },
    {
      "width": 996,
      "height": 14,
      "layer": [
        {
          "data": {"name": "seps"},
          "mark": {"type": "rule", "color": "#9a9a9a", "strokeDash": [1, 2], "strokeWidth": 1, "clip": true},
          "encoding": {
            "x": {"field": "i", "type": "quantitative", "scale": {"domain": [-0.76, 289.8], "nice": false, "zero": false},
                  "axis": {"values": [0, 12, 24, 36, 48, 60, 72, 84, 96, 108, 120, 132, 144, 156, 167, 179, 191, 203, 215, 227], "labelExpr": "['11 Aug 2020','27 Aug 2020','14 Sep 2020','30 Sep 2020','16 Oct 2020','3 Nov 2020','19 Nov 2020','7 Dec 2020','23 Dec 2020','12 Jan 2021','28 Jan 2021','15 Feb 2021','3 Mar 2021','19 Mar 2021','5 Apr 2021','21 Apr 2021','7 May 2021','25 May 2021','10 Jun 2021','28 Jun 2021'][indexof([0,12,24,36,48,60,72,84,96,108,120,132,144,156,167,179,191,203,215,227], datum.value)]", "labelAlign": "left", "labelFlush": false, "labelOverlap": false, "tickSize": 2, "labelPadding": 1, "domain": false, "title": null, "labelFontSize": 5.8}},
            "y": {"datum": 100, "type": "quantitative", "scale": {"domain": [0, 100], "nice": false, "zero": false},
                  "axis": {"orient": "right", "values": [100, 30], "tickSize": 2, "labelPadding": 2, "labelFontSize": 5.5, "title": null}},
            "y2": {"datum": 0}
          }
        },
        {
          "data": {"values": [{"lvl": 70}, {"lvl": 30}]},
          "mark": {"type": "rule", "color": "#a8a8a8", "strokeDash": [1, 2], "strokeWidth": 1},
          "encoding": {
            "y": {"field": "lvl", "type": "quantitative", "scale": {"domain": [0, 100], "nice": false, "zero": false},
                  "axis": {"orient": "right", "values": [100, 30], "tickSize": 2, "labelPadding": 2, "labelFontSize": 5.5, "title": null}}
          }
        },
        {
          "data": {"name": "candles"},
          "mark": {"type": "line", "color": "#8ecbf5", "strokeWidth": 1},
          "encoding": {
            "x": {"field": "i", "type": "quantitative", "scale": {"domain": [-0.76, 289.8], "nice": false, "zero": false},
                  "axis": {"values": [0, 12, 24, 36, 48, 60, 72, 84, 96, 108, 120, 132, 144, 156, 167, 179, 191, 203, 215, 227], "labelExpr": "['11 Aug 2020','27 Aug 2020','14 Sep 2020','30 Sep 2020','16 Oct 2020','3 Nov 2020','19 Nov 2020','7 Dec 2020','23 Dec 2020','12 Jan 2021','28 Jan 2021','15 Feb 2021','3 Mar 2021','19 Mar 2021','5 Apr 2021','21 Apr 2021','7 May 2021','25 May 2021','10 Jun 2021','28 Jun 2021'][indexof([0,12,24,36,48,60,72,84,96,108,120,132,144,156,167,179,191,203,215,227], datum.value)]", "labelAlign": "left", "labelFlush": false, "labelOverlap": false, "tickSize": 2, "labelPadding": 1, "domain": false, "title": null, "labelFontSize": 5.8}},
            "y": {"field": "rsi", "type": "quantitative", "scale": {"domain": [0, 100], "nice": false, "zero": false},
                  "axis": {"orient": "right", "values": [100, 30], "tickSize": 2, "labelPadding": 2, "labelFontSize": 5.5, "title": null}}
          }
        },
        {
          "data": {"values": [{"label": "RSI(14) 30.4665"}]},
          "mark": {"type": "text", "color": "#222222", "fontSize": 5.5, "align": "left", "baseline": "middle"},
          "encoding": {
            "x": {"datum": 0.3, "type": "quantitative", "scale": {"domain": [-0.76, 289.8], "nice": false, "zero": false},
                  "axis": {"values": [0, 12, 24, 36, 48, 60, 72, 84, 96, 108, 120, 132, 144, 156, 167, 179, 191, 203, 215, 227], "labelExpr": "['11 Aug 2020','27 Aug 2020','14 Sep 2020','30 Sep 2020','16 Oct 2020','3 Nov 2020','19 Nov 2020','7 Dec 2020','23 Dec 2020','12 Jan 2021','28 Jan 2021','15 Feb 2021','3 Mar 2021','19 Mar 2021','5 Apr 2021','21 Apr 2021','7 May 2021','25 May 2021','10 Jun 2021','28 Jun 2021'][indexof([0,12,24,36,48,60,72,84,96,108,120,132,144,156,167,179,191,203,215,227], datum.value)]", "labelAlign": "left", "labelFlush": false, "labelOverlap": false, "tickSize": 2, "labelPadding": 1, "domain": false, "title": null, "labelFontSize": 5.8}},
            "y": {"datum": 64, "type": "quantitative", "scale": {"domain": [0, 100], "nice": false, "zero": false},
                  "axis": {"orient": "right", "values": [100, 30], "tickSize": 2, "labelPadding": 2, "labelFontSize": 5.5, "title": null}},
            "text": {"field": "label", "type": "nominal"}
          }
        }
      ]
    }
  ]
}
